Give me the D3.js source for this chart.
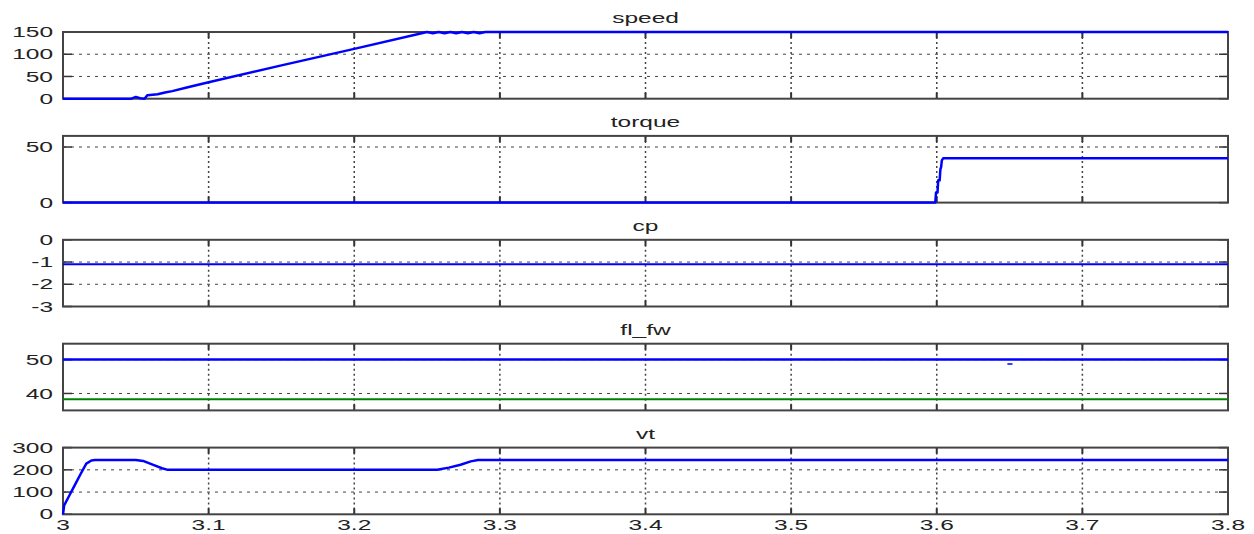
<!DOCTYPE html>
<html>
<head>
<meta charset="utf-8">
<script src="https://cdn.jsdelivr.net/npm/d3@7"></script>
<style>
  body { margin: 0; background: #fff; }
  text { font-family: "Liberation Sans", Arial, Helvetica, sans-serif; fill: #222; }
</style>
</head>
<body>
<svg id="chart" width="1254" height="534"></svg>
<script>
// ---- shared time axis ----
const timeDomain = [3.0, 3.8];
const timeTicks = [3.0, 3.1, 3.2, 3.3, 3.4, 3.5, 3.6, 3.7, 3.8];
const timeTickLabels = ["3", "3.1", "3.2", "3.3", "3.4", "3.5", "3.6", "3.7", "3.8"];

// ---- speed ----
const speedTime   = [3.0, 3.047, 3.05, 3.053, 3.056, 3.058, 3.065, 3.07, 3.075, 3.085, 3.1, 3.15, 3.2, 3.25,
                     3.254, 3.258, 3.262, 3.266, 3.27, 3.274, 3.278, 3.282, 3.286, 3.29, 3.8];
const speedValues = [0, 0, 4, 1, 0, 8, 10, 14, 17, 25, 37, 75, 112, 150,
                     147, 150, 147, 150, 147, 150, 147, 150, 147, 150, 150];

// ---- torque ----
const torqueTime   = [3.0, 3.599, 3.5995, 3.6005, 3.601, 3.602, 3.6025, 3.603, 3.6035, 3.6045, 3.606, 3.8];
const torqueValues = [0, 0, 9, 9, 20, 20, 30, 32, 38, 40, 40, 40];

// ---- cp ----
const cpTime   = [3.0, 3.8];
const cpValues = [-1.1, -1.1];

// ---- fl / fw ----
const flTime   = [3.0, 3.8];
const flValues = [50, 50];
const fwTime   = [3.0, 3.8];
const fwValues = [38.3, 38.3];
const flBlipTime   = [3.6485, 3.652];
const flBlipValues = [48.7, 48.7];

// ---- vt ----
const vtTime   = [3.0, 3.0008, 3.004, 3.008, 3.012, 3.016, 3.0195, 3.022, 3.05, 3.055, 3.062, 3.068, 3.072,
                  3.257, 3.265, 3.273, 3.28, 3.285, 3.8];
const vtValues = [0, 40, 80, 130, 180, 228, 242, 244, 244, 240, 222, 207, 200,
                  200, 210, 223, 238, 244, 244];

// ---- panel definitions ----
const panels = [
  { title: "speed",  domain: [0, 150],  ticks: [0, 50, 100, 150], labels: ["0", "50", "100", "150"],
    series: [{ t: speedTime, v: speedValues, color: "#0000ff", w: 2.5 }] },
  { title: "torque", domain: [0, 60],   ticks: [0, 50], labels: ["0", "50"],
    series: [{ t: torqueTime, v: torqueValues, color: "#0000ff", w: 2.5 }] },
  { title: "cp",     domain: [-3, 0],   ticks: [-3, -2, -1, 0], labels: ["-3", "-2", "-1", "0"],
    series: [{ t: cpTime, v: cpValues, color: "#0000ff", w: 2 }] },
  { title: "fl_fw",  domain: [35, 54.7], ticks: [40, 50], labels: ["40", "50"],
    series: [{ t: flTime, v: flValues, color: "#0000ff", w: 2.5 },
             { t: fwTime, v: fwValues, color: "#008000", w: 2 },
             { t: flBlipTime, v: flBlipValues, color: "#3344ff", w: 2 }] },
  { title: "vt",     domain: [0, 300],  ticks: [0, 100, 200, 300], labels: ["0", "100", "200", "300"],
    series: [{ t: vtTime, v: vtValues, color: "#0000ff", w: 2.5 }] }
];

// ---- layout ----
const W = 1254, H = 534;
const left = 63, right = 1228;
const firstTop = 32, panelH = 66.7, step = 103.9;
const textStretch = 1.75;

const svg = d3.select("#chart");
svg.append("rect").attr("width", W).attr("height", H).attr("fill", "#fff");

const x = d3.scaleLinear().domain(timeDomain).range([left, right]);

panels.forEach((p, i) => {
  const top = firstTop + i * step;
  const bottom = top + panelH;
  const y = d3.scaleLinear().domain(p.domain).range([bottom, top]);
  const g = svg.append("g");

  // grid: horizontal dotted lines
  g.selectAll(".hgrid").data(p.ticks.filter(v => v > p.domain[0] && v < p.domain[1]))
    .join("line")
    .attr("x1", left).attr("x2", right)
    .attr("y1", d => y(d)).attr("y2", d => y(d))
    .attr("stroke", "#444").attr("stroke-width", 1)
    .attr("stroke-dasharray", "3,5");

  // grid: vertical dotted lines
  g.selectAll(".vgrid").data(timeTicks.slice(1, -1))
    .join("line")
    .attr("x1", d => x(d)).attr("x2", d => x(d))
    .attr("y1", top).attr("y2", bottom)
    .attr("stroke", "#444").attr("stroke-width", 1.5)
    .attr("stroke-dasharray", "2,3");

  // x tick marks (inside, top and bottom)
  const tickLen = 6;
  timeTicks.forEach(t => {
    g.append("line").attr("x1", x(t)).attr("x2", x(t)).attr("y1", bottom).attr("y2", bottom - tickLen)
      .attr("stroke", "#333").attr("stroke-width", 2);
    g.append("line").attr("x1", x(t)).attr("x2", x(t)).attr("y1", top).attr("y2", top + tickLen)
      .attr("stroke", "#333").attr("stroke-width", 2);
  });
  // y tick marks (inside, left and right)
  p.ticks.forEach(v => {
    g.append("line").attr("x1", left).attr("x2", left + 9).attr("y1", y(v)).attr("y2", y(v))
      .attr("stroke", "#333").attr("stroke-width", 1.5);
    g.append("line").attr("x1", right).attr("x2", right - 9).attr("y1", y(v)).attr("y2", y(v))
      .attr("stroke", "#333").attr("stroke-width", 1.5);
  });

  // axes box
  g.append("rect")
    .attr("x", left).attr("y", top).attr("width", right - left).attr("height", panelH)
    .attr("fill", "none").attr("stroke", "#444").attr("stroke-width", 2);

  // data lines
  p.series.forEach(s => {
    const pts = s.t.map((t, k) => [t, s.v[k]]);
    g.append("path")
      .datum(pts)
      .attr("fill", "none")
      .attr("stroke", s.color)
      .attr("stroke-width", s.w)
      .attr("stroke-linejoin", "round")
      .attr("d", d3.line().x(d => x(d[0])).y(d => y(d[1])));
  });

  // y tick labels
  p.ticks.forEach((v, k) => {
    g.append("text")
      .attr("transform", `translate(${left - 10},${y(v)}) scale(${textStretch},1)`)
      .attr("text-anchor", "end")
      .attr("dy", "0.36em")
      .attr("font-size", 14)
      .text(p.labels[k]);
  });

  // panel title
  g.append("text")
    .attr("transform", `translate(${(left + right) / 2},${top - 9}) scale(${textStretch},1)`)
    .attr("text-anchor", "middle")
    .attr("font-size", 14)
    .text(p.title);

  // time labels under the last panel only
  if (i === panels.length - 1) {
    timeTicks.forEach((t, k) => {
      g.append("text")
        .attr("transform", `translate(${x(t)},${bottom + 16}) scale(${textStretch},1)`)
        .attr("text-anchor", "middle")
        .attr("font-size", 14)
        .text(timeTickLabels[k]);
    });
  }
});
</script>
</body>
</html>
